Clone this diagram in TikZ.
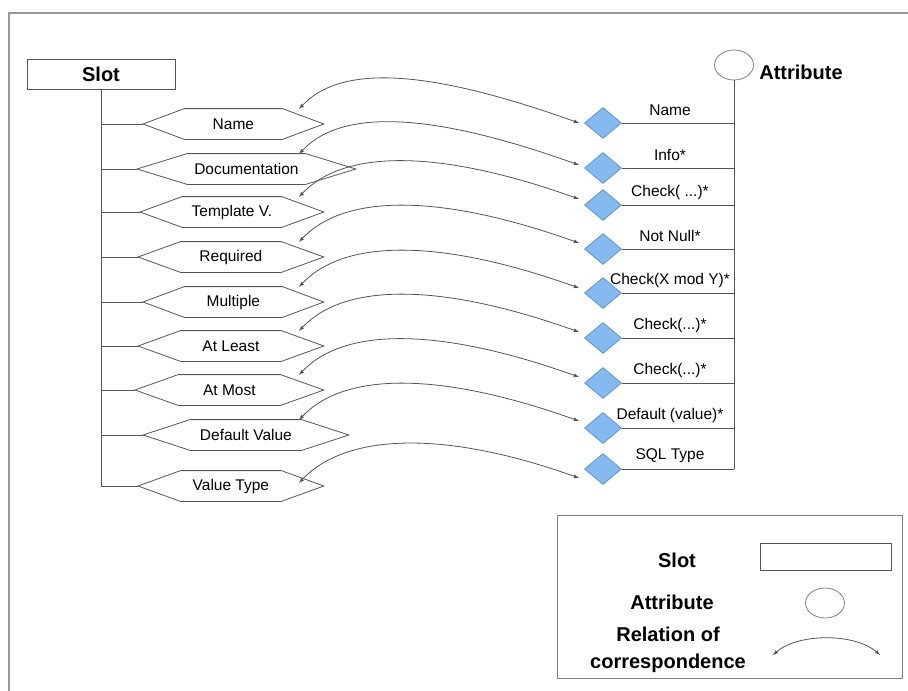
\documentclass[tikz,border=0pt]{standalone}
\usepackage{fontspec}
\setmainfont{Liberation Sans}
\usepackage{xcolor}
\usetikzlibrary{shapes, arrows, positioning, calc}

\definecolor{diafill}{RGB}{133,186,240}
\definecolor{diadraw}{RGB}{95,150,210}
\definecolor{linegray}{RGB}{85,85,85}

\tikzset{
  hexbox/.style={rectangle, minimum height=30pt, inner sep=0pt,
    font=\fontsize{15.5}{18}\selectfont},
  attrdia/.style={draw=diadraw, fill=diafill, diamond, minimum width=37pt,
    minimum height=31pt, inner sep=0pt},
  bigtext/.style={font=\fontsize{20}{27}\selectfont\bfseries},
  smalltext/.style={font=\fontsize{15.5}{18}\selectfont},
  corr/.style={<->, >=latex, linegray},
}

\begin{document}
\begin{tikzpicture}[x=1pt, y=-1pt, line width=0.8pt]
\useasboundingbox (0,0) rectangle (908,691);
\draw[gray!80, line width=1.5pt] (908,13) -- (9,13) -- (9,691);

% slot and attribute
\node[draw=linegray, minimum width=148pt, minimum height=30pt, bigtext] (slot) at (101,74) {Slot};
\node[draw=gray, ellipse, minimum width=39pt, minimum height=30pt] (attr) at (734,65) {};
\node[bigtext] (attrlab) at (801,72) {Attribute};

% rows
\foreach \hx/\hw/\hy/\hname/\dy/\dname/\ly/\ry [count=\i] in {
  143/180/124/Name/123/Name/109/123,
  137/218/169/Documentation/168/Info*/154/165,
  140/183/212/{Template V.}/205/{Check( ...)*}/197/199,
  138/185/257/Required/249/{Not Null*}/242/243,
  143/180/302/Multiple/293/{Check(X mod Y)*}/287/288,
  138/185/346/{At Least}/338/{Check(...)*}/331/332,
  135/188/390/{At Most}/383/{Check(...)*}/375/377,
  143/205/435/{Default Value}/428/{Default (value)*}/420/421,
  138/185/486/{Value Type}/469/{SQL Type}/483/478}
{
  \pgfmathsetmacro\sl{0.23*\hw}
  \node[hexbox, minimum width=\hw pt, anchor=west] (h\i) at (\hx,\hy) {\hname};
  \draw[linegray] (h\i.west) -- ([xshift=\sl pt]h\i.north west) -- ([xshift=-\sl pt]h\i.north east)
    -- (h\i.east) -- ([xshift=-\sl pt]h\i.south east) -- ([xshift=\sl pt]h\i.south west) -- cycle;
  \node[attrdia] (d\i) at (603,\dy) {};
  \node[smalltext] (l\i) at (670,\dy-13) {\dname};
  \coordinate (e\i) at (299,\ly);
  \coordinate (r\i) at (579,\ry);
  \draw[linegray] (slot.south |- h\i.west) -- (h\i.west);
  \draw[linegray] (d\i.east) -- (attr.south |- d\i.east);
  \draw[corr] (e\i) .. controls +(45,-48) and +(-140,-50) .. (r\i);
}
\draw[linegray] (slot.south) -- (slot.south |- h9.west);
\draw[linegray] (attr.south) -- (attr.south |- d9.east);

% legend
\draw[gray, line width=1pt] (557,515) rectangle (902,678);
\node[bigtext] (lslot) at (677,560) {Slot};
\node[draw=linegray, minimum width=131pt, minimum height=27pt] (lbox) at (826,557) {};
\node[bigtext] (lattr) at (672,602) {Attribute};
\node[draw=gray, ellipse, minimum width=39pt, minimum height=30pt] (lell) at (825,603) {};
\node[bigtext, align=center] (lrel) at (668,650) {Relation of\\correspondence};
\coordinate (la) at (773,655);
\coordinate (lb) at (880,655);
\draw[corr] (la) .. controls +(25,-22) and +(-25,-22) .. (lb);
\end{tikzpicture}
\end{document}
